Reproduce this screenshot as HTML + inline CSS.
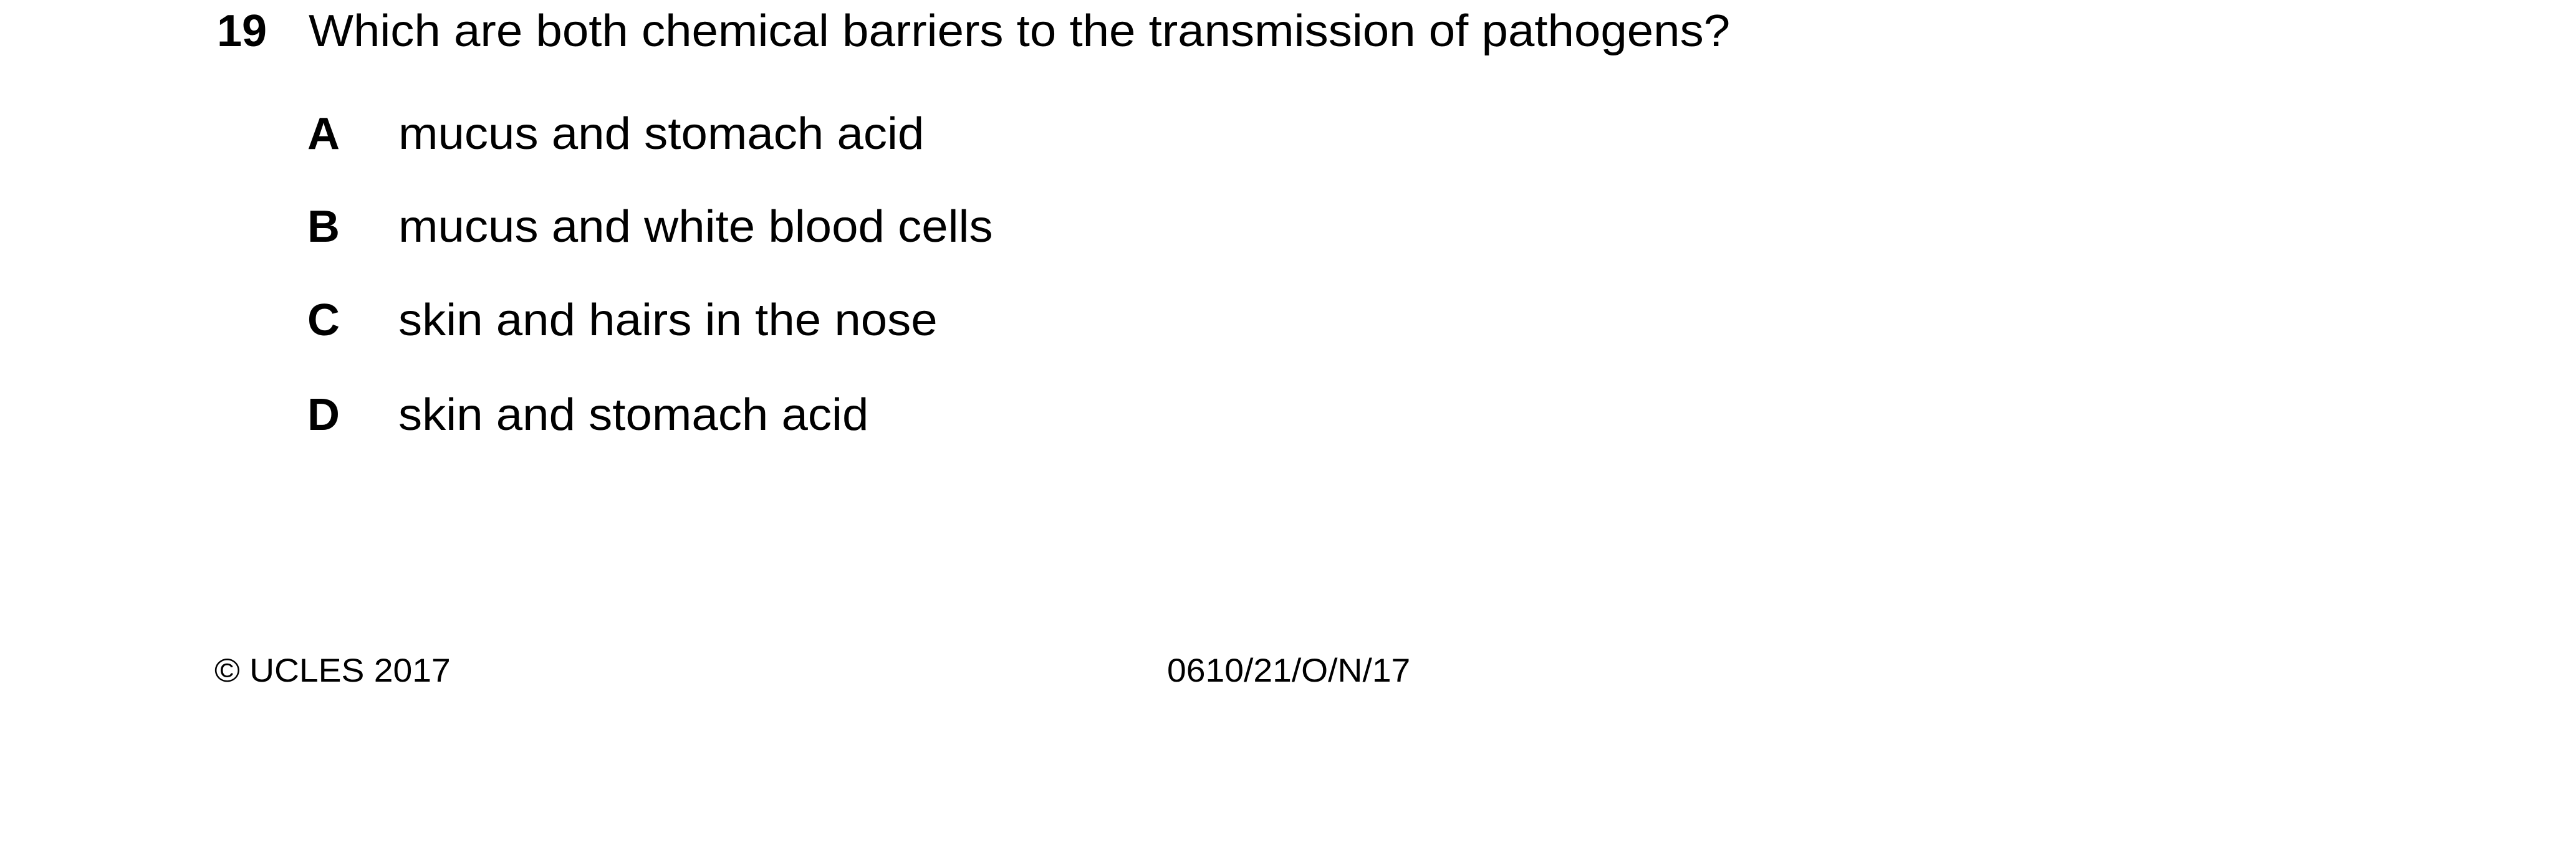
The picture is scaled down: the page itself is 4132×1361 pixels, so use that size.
<!DOCTYPE html>
<html><head><meta charset="utf-8"><style>
html,body{margin:0;padding:0;background:#fff;}
body{width:4132px;height:1361px;position:relative;overflow:hidden;font-family:"Liberation Sans",Arial,sans-serif;color:#000;}
.t{position:absolute;white-space:nowrap;font-size:72px;line-height:72px;transform-origin:0 0;}
.s{transform:scaleX(1.059);}
.b{font-weight:bold;}
.f{position:absolute;white-space:nowrap;font-size:53px;line-height:53px;transform-origin:0 0;transform:scaleX(1.043);}
</style></head><body>
<div class="t b" style="left:348px;top:14px;">19</div>
<div class="t s" style="left:495px;top:14px;">Which are both chemical barriers to the transmission of pathogens?</div>
<div class="t b" style="left:493px;top:179px;">A</div>
<div class="t s" style="left:639px;top:179px;">mucus and stomach acid</div>
<div class="t b" style="left:493px;top:328px;">B</div>
<div class="t s" style="left:639px;top:328px;">mucus and white blood cells</div>
<div class="t b" style="left:493px;top:478px;">C</div>
<div class="t s" style="left:639px;top:478px;">skin and hairs in the nose</div>
<div class="t b" style="left:493px;top:630px;">D</div>
<div class="t s" style="left:639px;top:630px;">skin and stomach acid</div>
<div class="f" style="left:344px;top:1050px;">© UCLES 2017</div>
<div class="f" style="left:1872px;top:1050px;">0610/21/O/N/17</div>
</body></html>
